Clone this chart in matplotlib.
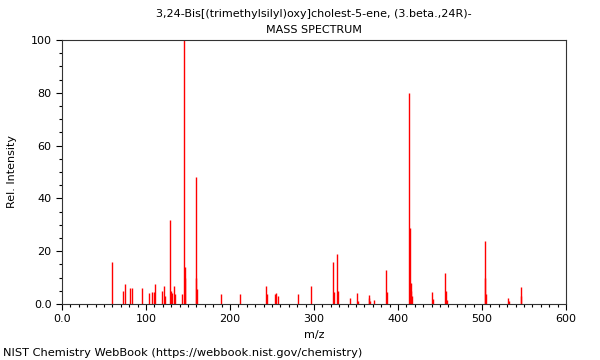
import matplotlib
matplotlib.use("Agg")
import matplotlib.pyplot as plt
from matplotlib.ticker import MultipleLocator, FuncFormatter

# peak list (m/z, relative intensity)
mz = [60, 73, 75, 81, 83, 95, 103, 107, 109, 111, 119, 121, 123,
      129, 130, 131, 133, 135, 143, 145, 146, 147, 159, 160, 161,
      189, 212, 243, 244, 253, 255, 257, 281, 296,
      323, 324, 327, 328, 343, 351, 352, 365, 366, 367, 371,
      386, 387, 413, 414, 415, 416, 417, 441, 442, 456, 457, 458,
      503, 504, 505, 531, 532, 546, 547]
intensity = [16.0, 4.8, 7.4, 5.9, 5.9, 5.9, 4.0, 4.4, 4.4, 7.4, 4.8, 6.8, 2.9,
             32.0, 4.8, 4.0, 6.8, 3.9, 3.9, 100.0, 13.9, 9.8, 48.0, 9.8, 5.8,
             3.8, 3.8, 6.8, 3.8, 3.8, 4.3, 3.2, 3.8, 7.0,
             16.0, 4.4, 18.9, 5.0, 2.4, 4.1, 1.2, 2.3, 3.3, 1.3, 1.7,
             13.0, 4.4, 80.0, 28.9, 7.8, 5.0, 2.9, 4.5, 1.8, 11.9, 5.0, 1.5,
             24.0, 10.0, 3.8, 2.1, 1.0, 6.4, 2.9]

title_name = "3,24-Bis[(trimethylsilyl)oxy]cholest-5-ene, (3.beta.,24R)-"
title_kind = "MASS SPECTRUM"
credit = "NIST Chemistry WebBook (https://webbook.nist.gov/chemistry)"

plt.rcParams['font.family'] = ['DejaVu Sans']

fig = plt.figure(figsize=(6, 3.6), dpi=100)
ax = fig.add_axes([62/600, 1 - 304/360, 504/600, 264/360])

ax.vlines(mz, 0, intensity, colors='#ff0000', linewidth=1.0)

ax.set_xlim(0, 600)
ax.set_ylim(0, 100)
ax.xaxis.set_major_locator(MultipleLocator(100))
ax.xaxis.set_minor_locator(MultipleLocator(10))
ax.yaxis.set_major_locator(MultipleLocator(20))
ax.yaxis.set_minor_locator(MultipleLocator(5))
ax.xaxis.set_major_formatter(FuncFormatter(lambda v, p: "0.0" if v == 0 else f"{v:.0f}"))
ax.yaxis.set_major_formatter(FuncFormatter(lambda v, p: "0.0" if v == 0 else f"{v:.0f}"))
ax.tick_params(which='both', direction='out', labelsize=8, width=0.8)
ax.tick_params(which='major', length=4)
ax.tick_params(which='minor', length=2)
for s in ax.spines.values():
    s.set_linewidth(0.8)
    s.set_color('#333333')

ax.set_xlabel("m/z", fontsize=8, labelpad=4)
ax.set_ylabel("Rel. Intensity", fontsize=8, labelpad=10)

# two title lines, centred over the axes
fig.text(314/600, 1 - 14/360, title_name, fontsize=8, ha='center', va='center')
fig.text(314/600, 1 - 30/360, title_kind, fontsize=8, ha='center', va='center')

fig.text(3/600, 1 - 353/360, credit, fontsize=8.2, va='center', ha='left')

fig.savefig("out.png", dpi=100)
